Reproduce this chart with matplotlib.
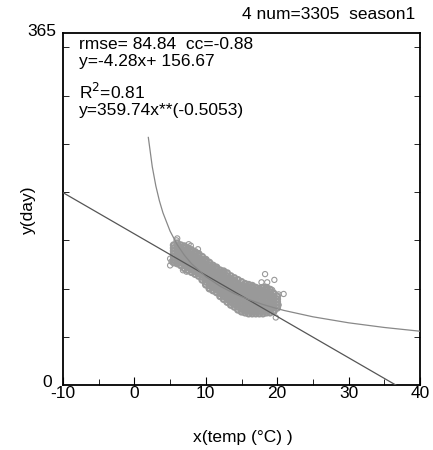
import matplotlib
matplotlib.use("Agg")
import matplotlib.pyplot as plt
import matplotlib.transforms as mtransforms
import numpy as np

plt.rcParams['font.family'] = ['Liberation Sans', 'DejaVu Sans']
plt.rcParams['axes.unicode_minus'] = False

# fit coefficients shown on the chart
lin_slope = -4.28
lin_icpt = 156.67
pow_a = 359.74
pow_b = -0.5053

# x positions the two fit lines are drawn through
lin_x = [-10, 40]
pow_x = [1.95, 2.5, 3, 3.5, 4, 5, 6, 7, 8, 10, 12, 14, 16, 18, 20, 21, 25, 30, 35, 40]

# dense core of the scatter cloud, read column by column (temp, list of days)
cloud_cols = [
    (5.5, [127, 130, 133, 136, 139, 142, 145]),
    (6.0, [126, 129, 132, 135, 138, 141, 144, 147]),
    (6.5, [124, 127, 130, 133, 136, 139, 142, 145]),
    (7.0, [121, 124, 127, 130, 133, 136, 139, 142, 144]),
    (7.5, [119, 122, 125, 128, 131, 134, 137, 140, 142]),
    (8.0, [117, 120, 123, 126, 129, 132, 135, 138, 140]),
    (8.5, [115, 118, 121, 124, 127, 130, 133, 136, 138]),
    (9.0, [113, 116, 119, 122, 125, 128, 131, 134, 136]),
    (9.5, [109, 112, 115, 118, 121, 124, 127, 130, 133]),
    (10.0, [104, 107, 110, 113, 116, 119, 122, 125, 128, 130]),
    (10.5, [100, 103, 106, 109, 112, 115, 118, 121, 124, 127]),
    (11.0, [98, 101, 104, 107, 110, 113, 116, 119, 122, 124]),
    (11.5, [96, 99, 102, 105, 108, 111, 114, 117, 120, 122]),
    (12.0, [92, 95, 98, 101, 104, 107, 110, 113, 116, 119]),
    (12.5, [89, 92, 95, 98, 101, 104, 107, 110, 113, 116, 118]),
    (13.0, [86, 89, 92, 95, 98, 101, 104, 107, 110, 113, 116]),
    (13.5, [83, 86, 89, 92, 95, 98, 101, 104, 107, 110, 113]),
    (14.0, [81, 84, 87, 90, 93, 96, 99, 102, 105, 108, 111]),
    (14.5, [78, 81, 84, 87, 90, 93, 96, 99, 102, 105, 109]),
    (15.0, [76, 79, 82, 85, 88, 91, 94, 97, 100, 103, 107]),
    (15.5, [75, 78, 81, 84, 87, 90, 93, 96, 99, 102, 105]),
    (16.0, [74, 77, 80, 83, 86, 89, 92, 95, 98, 101, 104]),
    (16.5, [74, 77, 80, 83, 86, 89, 92, 95, 98, 101, 103]),
    (17.0, [74, 77, 80, 83, 86, 89, 92, 95, 98, 101]),
    (17.5, [74, 77, 80, 83, 86, 89, 92, 95, 98, 100]),
    (18.0, [74, 77, 80, 83, 86, 89, 92, 95, 98, 101]),
    (18.5, [75, 78, 81, 84, 87, 90, 93, 96, 99, 101]),
    (19.0, [75, 78, 81, 84, 87, 90, 93, 96, 99]),
    (19.5, [77, 80, 83, 86, 89, 92, 95]),
    (20.0, [80, 83, 86, 89, 92]),
]

# loose points around the cloud
out_x = [5.9, 7.6, 7.9, 8.9, 10.6, 5.2, 6.8, 7.3, 12.2, 12.6, 18.3, 17.8, 18.6,
         19.6, 20.9, 20.2, 19.8, 19.3, 20.2, 19.6, 5.0, 5.0, 6.0]
out_y = [150, 146, 144.5, 140.8, 126, 128, 119, 117.5, 117.5, 117.5, 115, 106.5, 106.5,
         109, 94.4, 94, 70, 98.5, 83, 76, 124, 131, 152]

core_x = [c[0] for c in cloud_cols for _ in c[1]]
core_y = [v for c in cloud_cols for v in c[1]]

fs = 12.5

fig = plt.figure(figsize=(4.33, 4.5), dpi=100)
ax = fig.add_axes([0.1455, 0.1444, 0.8245, 0.7823])

ax.scatter(core_x, core_y, s=16, facecolors='none', edgecolors='#999999', linewidths=1.6, zorder=2)
ax.scatter(out_x, out_y, s=14, facecolors='none', edgecolors='#999999', linewidths=0.8, zorder=2)

lx = np.array(lin_x, dtype=float)
ax.plot(lx, lin_slope * lx + lin_icpt, color='#555555', lw=0.9, zorder=3)
px = np.array(pow_x, dtype=float)
ax.plot(px, pow_a * px ** pow_b, color='#888888', lw=0.9, zorder=3)

ax.set_xlim(-10, 40)
ax.set_ylim(0, 365)
ax.set_xticks([-10, 0, 10, 20, 30, 40])
ax.set_xticks([-5, 5, 15, 25, 35], minor=True)
ax.set_yticks([0, 365])
ax.set_yticks([50, 100, 150, 200, 250, 300, 350], minor=True)
ax.tick_params(axis='both', which='both', direction='in', labelsize=fs, top=False)
ax.tick_params(axis='x', which='major', length=6, pad=1)
ax.tick_params(axis='x', which='minor', length=4)
ax.tick_params(axis='y', which='major', length=0, pad=5)
ax.tick_params(axis='y', which='minor', length=4, right=True)
for sp in ax.spines.values():
    sp.set_linewidth(1.3)

# nudge the two y labels like the original: 0 up and left, 365 a bit up
ylabs = ax.get_yticklabels()
nudges = [(-3, 3), (0, 2)]
for lab, (dx, dy) in zip(ylabs, nudges):
    off = mtransforms.ScaledTranslation(dx / 72, dy / 72, fig.dpi_scale_trans)
    lab.set_transform(lab.get_transform() + off)

tx = 0.045
ax.text(tx, 0.966, "rmse= 84.84  cc=-0.88", transform=ax.transAxes, fontsize=fs, va='center')
ax.text(tx, 0.918, "y=-4.28x+ 156.67", transform=ax.transAxes, fontsize=fs, va='center')
ax.text(tx, 0.832, "R$^2$=0.81", transform=ax.transAxes, fontsize=fs, va='center')
ax.text(tx, 0.781, "y=359.74x**(-0.5053)", transform=ax.transAxes, fontsize=fs, va='center')

fig.text(0.958, 0.967, "4 num=3305  season1", ha='right', va='center', fontsize=fs)
fig.text(0.065, 0.533, "y(day)", rotation=90, ha='center', va='center', fontsize=fs)
fig.text(0.56, 0.027, "x(temp (°C) )", ha='center', va='center', fontsize=fs)

fig.savefig("out.png", dpi=100)
